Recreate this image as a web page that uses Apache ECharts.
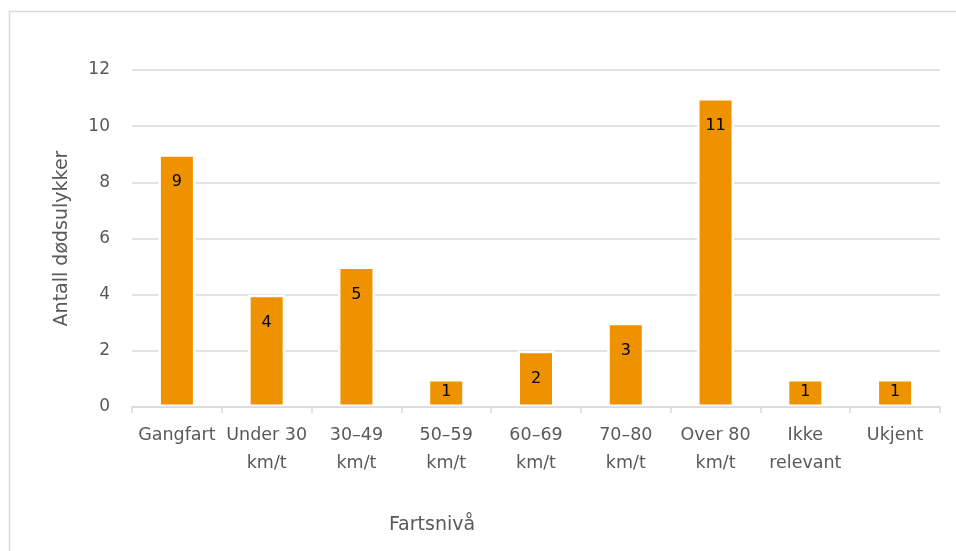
<!DOCTYPE html>
<html>
<head>
<meta charset="utf-8">
<script src="https://cdn.jsdelivr.net/npm/echarts@6/dist/echarts.min.js"></script>
<style>
  html, body { margin: 0; padding: 0; background: #ffffff; }
  #chart { width: 956px; height: 551px; }
</style>
</head>
<body>
<div id="chart"></div>
<script>
// Dødsulykker etter fartsnivå
const categories = ['Gangfart', 'Under 30\nkm/t', '30–49\nkm/t', '50–59\nkm/t', '60–69\nkm/t', '70–80\nkm/t', 'Over 80\nkm/t', 'Ikke\nrelevant', 'Ukjent'];
const values = [9, 4, 5, 1, 2, 3, 11, 1, 1];
const yTicks = [0, 2, 4, 6, 8, 10, 12];

const FONT = 'DejaVu Sans';
const TEXT = '#595959';
const GRID = '#d9d9d9';
const BAR = '#ee9200';

const chart = echarts.init(document.getElementById('chart'), null, { renderer: 'canvas' });

// short bars get their value label pulled up so it stays inside the bar
const barData = values.map(v => ({
  value: v,
  label: { distance: v < 2 ? 4.5 : 20 }
}));

chart.setOption({
  animation: false,
  backgroundColor: '#ffffff',
  grid: { left: 132, right: 16, top: 70, bottom: 144, containLabel: false },
  xAxis: {
    type: 'category',
    data: categories,
    z: 5,
    axisLine: { show: true, lineStyle: { color: GRID, width: 1.5 } },
    axisTick: { show: true, alignWithLabel: false, length: 6, lineStyle: { color: GRID, width: 1.5 } },
    axisLabel: {
      color: TEXT, fontFamily: FONT, fontSize: 17.5, lineHeight: 28,
      margin: 14, interval: 0
    },
    splitLine: { show: false }
  },
  yAxis: {
    type: 'value',
    min: yTicks[0],
    max: yTicks[yTicks.length - 1],
    interval: 2,
    axisLine: { show: false },
    axisTick: { show: false },
    axisLabel: { color: TEXT, fontFamily: FONT, fontSize: 17, margin: 22 },
    splitLine: { show: true, lineStyle: { color: GRID, width: 1.5 } }
  },
  series: [{
    type: 'bar',
    data: barData,
    barWidth: 37,
    itemStyle: { color: BAR, borderColor: '#ffffff', borderWidth: 2.5 },
    label: {
      show: true,
      position: 'insideTop',
      color: '#000000',
      fontFamily: FONT,
      fontSize: 16
    }
  }],
  graphic: [
    {
      type: 'rect',
      silent: true,
      shape: { x: 9.5, y: 11.5, width: 1000, height: 600 },
      style: { fill: null, stroke: GRID, lineWidth: 1.5 },
      z: -10
    },
    {
      type: 'text',
      x: 62, y: 238.5,
      rotation: Math.PI / 2,
      style: {
        text: 'Antall dødsulykker',
        fill: TEXT, font: '19px "DejaVu Sans"',
        textAlign: 'center', textVerticalAlign: 'middle'
      }
    },
    {
      type: 'text',
      x: 432, y: 525,
      style: {
        text: 'Fartsnivå',
        fill: TEXT, font: '19px "DejaVu Sans"',
        textAlign: 'center', textVerticalAlign: 'middle'
      }
    }
  ]
});
</script>
</body>
</html>
